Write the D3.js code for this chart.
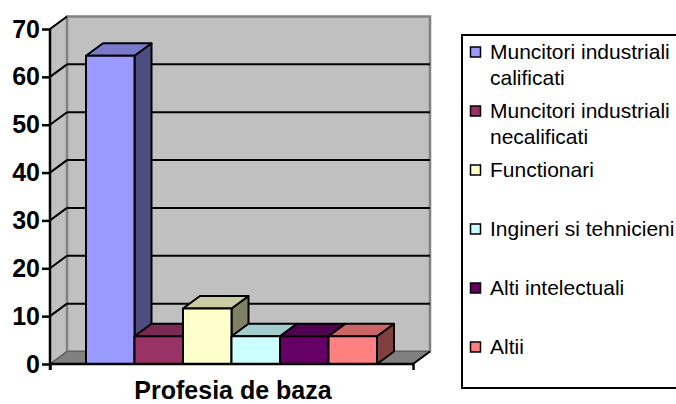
<!DOCTYPE html>
<html><head><meta charset="utf-8">
<script src="https://cdn.jsdelivr.net/npm/d3@7"></script>
<style>
html,body{margin:0;padding:0;background:#fff;}
svg{display:block;font-family:"Liberation Sans",Arial,sans-serif;}
</style></head>
<body><svg id="c" width="676" height="404"></svg>
<script>
const categories = ["Muncitori industriali calificati","Muncitori industriali necalificati","Functionari","Ingineri si tehnicieni","Alti intelectuali","Altii"];
const legendLines = [["Muncitori industriali","calificati"],["Muncitori industriali","necalificati"],["Functionari"],["Ingineri si tehnicieni"],["Alti intelectuali"],["Altii"]];
const values = [64.4, 5.8, 11.6, 5.8, 5.8, 5.8];
const colors = ["#9999FF","#993366","#FFFFCC","#CCFFFF","#660066","#FF8080"];
const yTicks = [0,10,20,30,40,50,60,70];
const axisTitle = "Profesia de baza";

const svg = d3.select("#c");
const y = d3.scaleLinear().domain([0,70]).range([364,29]);
const x0 = 50, x1 = 413;           // front floor edge
const dx = 17, dy = -12.5;         // depth offset
const x = d3.scaleBand().domain(categories).range([x0+36, x1-36]).paddingInner(0);

function shade(c,k){const r=d3.rgb(c);return d3.rgb(r.r*k,r.g*k,r.b*k).formatHex();}

// side wall
svg.append("polygon").attr("points",[[x0,y(70)],[x0+dx,y(70)+dy],[x0+dx,y(0)+dy],[x0,y(0)]].join(" "))
  .attr("fill","#C0C0C0").attr("stroke","#808080").attr("stroke-width",1.5);
// back wall
svg.append("rect").attr("x",x0+dx).attr("y",y(70)+dy).attr("width",x1-x0).attr("height",y(0)-y(70))
  .attr("fill","#C0C0C0").attr("stroke","#808080").attr("stroke-width",2.5);
// floor
svg.append("polygon").attr("points",[[x0,y(0)],[x0+dx,y(0)+dy],[x1+dx,y(0)+dy],[x1,y(0)]].join(" "))
  .attr("fill","#808080").attr("stroke","#606060").attr("stroke-width",1);

// gridlines
yTicks.filter(t=>t>0&&t<70).forEach(t=>{
  svg.append("line").attr("x1",x0+dx).attr("x2",x1+dx).attr("y1",y(t)+dy).attr("y2",y(t)+dy)
    .attr("stroke","#000").attr("stroke-width",2);
});
yTicks.filter(t=>t>0).forEach(t=>{
  svg.append("line").attr("x1",x0).attr("x2",x0+dx).attr("y1",y(t)).attr("y2",y(t)+dy)
    .attr("stroke","#000").attr("stroke-width",2);
});
svg.append("line").attr("x1",x0).attr("x2",x0+dx).attr("y1",y(0)).attr("y2",y(0)+dy)
  .attr("stroke","#606060").attr("stroke-width",1.5);

// bars
categories.forEach((c,i)=>{
  const bx = x(c), bw = x.bandwidth(), top = y(values[i]), base = y(0);
  const g = svg.append("g").attr("stroke","#000").attr("stroke-width",2).attr("stroke-linejoin","round");
  g.append("polygon").attr("points",[[bx+bw,top],[bx+bw+dx,top+dy],[bx+bw+dx,base+dy],[bx+bw,base]].join(" "))
    .attr("fill",shade(colors[i],0.5));
  g.append("polygon").attr("points",[[bx,top],[bx+dx,top+dy],[bx+bw+dx,top+dy],[bx+bw,top]].join(" "))
    .attr("fill",shade(colors[i],0.8));
  g.append("rect").attr("x",bx).attr("y",top).attr("width",bw).attr("height",base-top)
    .attr("fill",colors[i]);
});

// axes
const yAxis = d3.axisLeft(y).tickValues(yTicks).tickSize(8).tickPadding(2).tickFormat(d3.format("d"));
const ga = svg.append("g").attr("transform",`translate(${x0},0)`).call(yAxis);
ga.select(".domain").attr("stroke","#000").attr("stroke-width",2.5).attr("d",`M0,${y(70)}V${y(0)+6}`);
ga.selectAll(".tick line").attr("stroke","#000").attr("stroke-width",2.5);
ga.selectAll(".tick text").attr("font-size",25).attr("font-weight","bold").attr("fill","#000")
  .attr("font-family","'Liberation Sans',Arial,sans-serif");

const xs = d3.scaleLinear().domain([0,1]).range([x0,x1]);
const xAxis = d3.axisBottom(xs).tickValues([0,1]).tickSize(6).tickFormat("");
const gx = svg.append("g").attr("transform",`translate(0,${y(0)})`).call(xAxis);
gx.select(".domain").attr("stroke","#000").attr("stroke-width",2.5).attr("d",`M${x0},0H${x1}`);
gx.selectAll(".tick line").attr("stroke","#000").attr("stroke-width",2.5);
svg.append("line").attr("x1",x1).attr("y1",y(0)).attr("x2",x1+dx).attr("y2",y(0)+dy)
  .attr("stroke","#000").attr("stroke-width",2);

svg.append("text").attr("x",233).attr("y",399).attr("text-anchor","middle")
  .attr("font-size",25).attr("font-weight","bold").text(axisTitle);

// legend
const lg = svg.append("g");
lg.append("rect").attr("x",462).attr("y",35).attr("width",240).attr("height",353)
  .attr("fill","#fff").attr("stroke","#000").attr("stroke-width",2);
const ly = d3.scaleLinear().domain([0,5]).range([52,347]);
legendLines.forEach((lines,i)=>{
  const cy = ly(i);
  lg.append("rect").attr("x",470.5).attr("y",cy-5).attr("width",10).attr("height",10)
    .attr("fill",colors[i]).attr("stroke","#000").attr("stroke-width",1.5);
  lines.forEach((t,j)=>{
    lg.append("text").attr("x",490).attr("y",cy+7+j*26).attr("font-size",21).attr("fill","#000").text(t);
  });
});
</script></body></html>
